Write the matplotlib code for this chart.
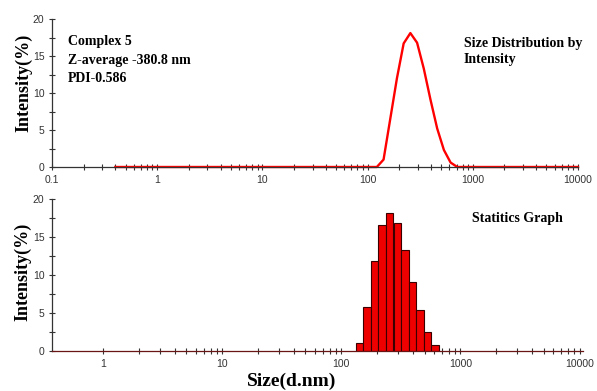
import matplotlib
matplotlib.use("Agg")
import matplotlib.pyplot as plt
import numpy as np
from matplotlib.ticker import FixedLocator, NullFormatter

# size classes (d.nm) and intensity (%)
sizes = [0.4, 122.4, 141.8, 164.2, 190.1, 220.2, 255.0, 295.3, 342.0,
         396.1, 458.7, 531.2, 615.1, 712.4, 10000]
intensity = [0, 0, 1.0, 6.5, 12.0, 16.7, 18.1, 16.8, 13.3, 9.1, 5.2, 2.3, 0.6, 0, 0]

bar_sizes = [141.8, 164.2, 190.1, 220.2, 255.0, 295.3, 342.0, 396.1, 458.7, 531.2, 615.1]
bar_values = [1.05, 5.8, 11.9, 16.6, 18.2, 16.8, 13.3, 9.1, 5.4, 2.5, 0.8]

top_xticks = [0.1, 1, 10, 100, 1000, 10000]
bot_xticks = [1, 10, 100, 1000, 10000]
yticks = [0, 5, 10, 15, 20]
info_lines = ["Complex 5", "Z-average -380.8 nm", "PDI-0.586"]

serif = "Liberation Serif"
sans = "Liberation Sans"
red = "#ff0000"

fig = plt.figure(figsize=(5.97, 3.91), dpi=100)
ax1 = fig.add_axes([52/597, 1-167/391, 526/597, 148/391])
ax2 = fig.add_axes([52/597, 1-351/391, 531/597, 152/391])


def style(ax, xticks, minors):
    ax.set_xscale("log")
    ax.set_ylim(0, 20)
    for s in ["top", "right"]:
        ax.spines[s].set_visible(False)
    for s in ["left", "bottom"]:
        ax.spines[s].set_color("#333333")
        ax.spines[s].set_linewidth(0.9)
    ax.xaxis.set_major_locator(FixedLocator(xticks))
    ax.set_xticklabels([f"{t:g}" for t in xticks])
    ax.xaxis.set_minor_locator(FixedLocator(minors))
    ax.xaxis.set_minor_formatter(NullFormatter())
    ax.set_yticks(yticks)
    ax.set_yticks([2.5, 7.5, 12.5, 17.5], minor=True)
    ax.tick_params(which="major", direction="inout", length=5, width=0.8,
                   color="#333333", labelsize=7.5, pad=3)
    ax.tick_params(which="minor", direction="inout", length=4, width=0.8,
                   color="#333333")
    for lab in ax.get_xticklabels() + ax.get_yticklabels():
        lab.set_fontfamily(sans)
        lab.set_color("#333333")
    ax.set_ylabel("Intensity(%)", fontfamily=serif, fontweight="bold", fontsize=13)


# top: size distribution by intensity
minor_top = [m * 10.0**k for k in range(-1, 4) for m in range(2, 10)]
style(ax1, top_xticks, minor_top)
ax1.set_xlim(0.1, 10000)
ax1.plot(sizes, intensity, color=red, lw=1.7, clip_on=False, zorder=2)
ax1.yaxis.set_label_coords(-0.038, 0.57)
for i, t in enumerate(info_lines):
    fig.text(68/597, 1-(42+18.5*i)/391, t, fontfamily=serif, fontweight="bold",
             fontsize=10, va="center")
fig.text(464/597, 1-43/391, "Size Distribution by", fontfamily=serif,
         fontweight="bold", fontsize=10, va="center")
fig.text(464/597, 1-60/391, "Intensity", fontfamily=serif,
         fontweight="bold", fontsize=10, va="center")

# bottom: statistics graph
minor_bot = [m * 10.0**k for k in range(0, 4) for m in range(2, 10)]
style(ax2, bot_xticks, minor_bot)
ax2.set_xlim(0.3726, 10700)
ax2.spines["bottom"].set_color("#6a1515")
bs = np.array(bar_sizes)
left = bs / 1.076
right = bs * 1.076
ax2.bar(left, bar_values, width=right - left, align="edge", color="#ee0000",
        edgecolor="#3a0000", linewidth=0.8, zorder=2)
ax2.yaxis.set_label_coords(-0.038, 0.52)
fig.text(472/597, 1-218/391, "Statitics Graph", fontfamily=serif,
         fontweight="bold", fontsize=10, va="center")
fig.text(292/597, 1-381/391, "Size(d.nm)", fontfamily=serif, fontweight="bold",
         fontsize=14, ha="center", va="center")

fig.savefig("out.png", dpi=100)
